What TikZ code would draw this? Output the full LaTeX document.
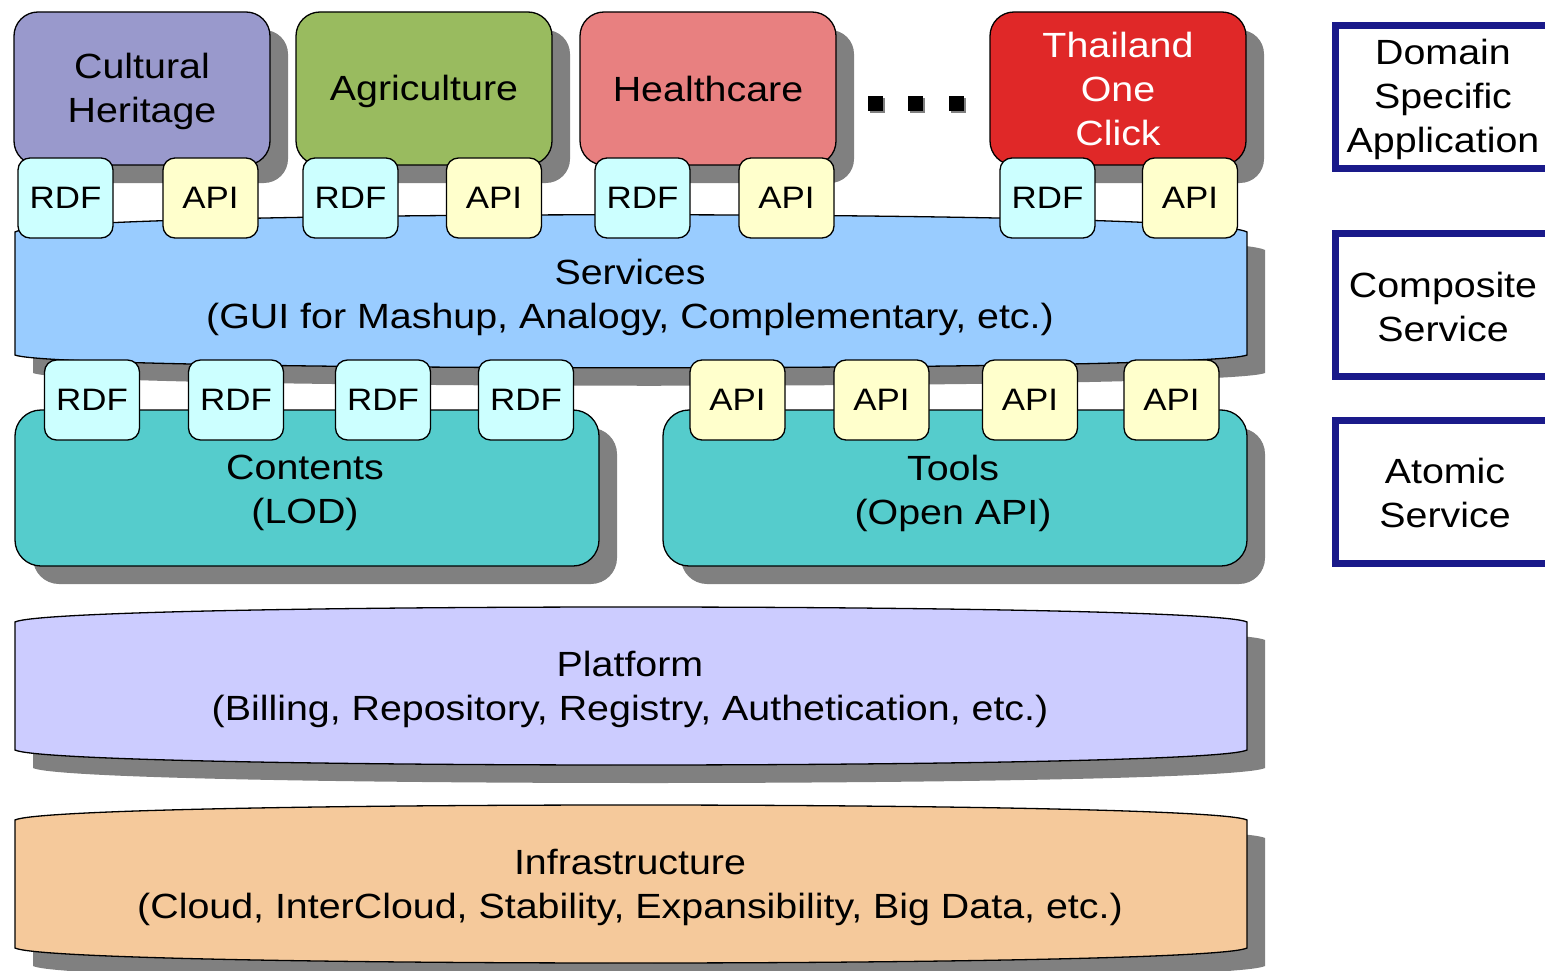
\documentclass[tikz,border=0pt]{standalone}
\usepackage{fontspec}
\setmainfont{Liberation Sans}[FakeStretch=1.125]
\usetikzlibrary{shadows}
\definecolor{shadowgray}{HTML}{808080}
\definecolor{chcol}{HTML}{9999CC}
\definecolor{agcol}{HTML}{99BB5F}
\definecolor{hccol}{HTML}{E88080}
\definecolor{thcol}{HTML}{E02828}
\definecolor{rdfcol}{HTML}{CCFFFF}
\definecolor{apicol}{HTML}{FFFFCC}
\definecolor{svcol}{HTML}{99CCFF}
\definecolor{tlcol}{HTML}{55CCCC}
\definecolor{plcol}{HTML}{CCCCFF}
\definecolor{ifcol}{HTML}{F5C99B}
\definecolor{navycol}{HTML}{1A1A8A}
\newcommand\bandpath[6]{(#1,#3) .. controls ({#1+40},{#3-#4}) and ({#2-40},{#3-#4}) .. (#2,#3) -- (#2,#5) .. controls ({#2-40},{#5+#6}) and ({#1+40},{#5+#6}) .. (#1,#5) -- cycle}
\tikzset{
  every node/.style={font=\fontsize{35}{44}\selectfont, align=center, inner sep=0pt},
  shadowed/.style={drop shadow={shadow xshift=18pt, shadow yshift=-18pt, fill=shadowgray, opacity=1}},
  appbox/.style={draw=black, line width=1.3pt, rounded corners=24pt, minimum width=256pt, minimum height=153pt, shadowed},
  smallbox/.style={draw=black, line width=1.3pt, rounded corners=12pt, minimum width=95pt, minimum height=80pt, font=\fontsize{31}{38}\selectfont},
  rdfbox/.style={smallbox, fill=rdfcol},
  apibox/.style={smallbox, fill=apicol},
  layerbox/.style={draw=black, line width=1.3pt, rounded corners=26pt, minimum width=584pt, minimum height=156pt, fill=tlcol, shadowed},
  bandline/.style={draw=black, line width=1.3pt},
  levelbox/.style={draw=navycol, line width=7pt},
  dotbox/.style={fill=black, minimum size=15pt, drop shadow={shadow xshift=2pt, shadow yshift=-2pt, fill=shadowgray, opacity=1}},
}
\begin{document}
\begin{tikzpicture}[x=1pt,y=-1pt]
\useasboundingbox (0,0) rectangle (1545,971);
\clip (0,0) rectangle (1545,971);
% application boxes
\node[appbox, fill=chcol] (ch) at (142,88.5) {};
\node (cht) at (142,91.5) {Cultural\\Heritage};
\node[appbox, fill=agcol] (ag) at (424,88.5) {};
\node (agt) at (424,91.5) {Agriculture};
\node[appbox, fill=hccol] (hc) at (708,88.5) {Healthcare};
\node[appbox, fill=thcol, text=white] (th) at (1118,88.5) {Thailand\\One\\Click};
\node[dotbox] (d1) at (875,104) {};
\node[dotbox] (d2) at (915,104) {};
\node[dotbox] (d3) at (956,104) {};
% services band
\fill[shadowgray, shift={(18,18)}] \bandpath{15}{1247}{232}{23}{355}{17};
\path[bandline, fill=svcol] \bandpath{15}{1247}{232}{23}{355}{17};
\node (sv) at (630,297) {Services\\(GUI for Mashup, Analogy, Complementary, etc.)};
% top RDF/API
\node[rdfbox] (r1) at (65.5,198) {RDF};
\node[apibox] (a1) at (210.5,198) {API};
\node[rdfbox] (r2) at (350.5,198) {RDF};
\node[apibox] (a2) at (494,198) {API};
\node[rdfbox] (r3) at (642.5,198) {RDF};
\node[apibox] (a3) at (786.5,198) {API};
\node[rdfbox] (r4) at (1047.5,198) {RDF};
\node[apibox] (a4) at (1190,198) {API};
% contents and tools
\node[layerbox] (ct) at (307,488) {};
\node[layerbox] (tl) at (955,488) {};
\node (ctt) at (305,493) {Contents\\(LOD)};
\node (tlt) at (953,493) {Tools\\(Open API)};
% lower RDF/API
\node[rdfbox] (lr1) at (92,400) {RDF};
\node[rdfbox] (lr2) at (236,400) {RDF};
\node[rdfbox] (lr3) at (383,400) {RDF};
\node[rdfbox] (lr4) at (526,400) {RDF};
\node[apibox] (la1) at (737.5,400) {API};
\node[apibox] (la2) at (881.5,400) {API};
\node[apibox] (la3) at (1030,400) {API};
\node[apibox] (la4) at (1171.5,400) {API};
% platform
\fill[shadowgray, shift={(18,18)}] \bandpath{15}{1247}{622}{20}{750}{20};
\path[bandline, fill=plcol] \bandpath{15}{1247}{622}{20}{750}{20};
\node (pl) at (630,689.5) {Platform\\(Billing, Repository, Registry, Authetication, etc.)};
% infrastructure
\fill[shadowgray, shift={(18,18)}] \bandpath{15}{1247}{820}{20}{948}{20};
\path[bandline, fill=ifcol] \bandpath{15}{1247}{820}{20}{948}{20};
\node (inf) at (630,887.5) {Infrastructure\\(Cloud, InterCloud, Stability, Expansibility, Big Data, etc.)};
% level boxes
\draw[levelbox] (1335.5,25.5) rectangle (1570,168.5);
\draw[levelbox] (1335.5,233.5) rectangle (1570,376.5);
\draw[levelbox] (1335.5,420.5) rectangle (1570,563.5);
\node (lv1) at (1443,99) {Domain\\Specific\\Application};
\node (lv2) at (1443,307) {Composite\\Service};
\node (lv3) at (1445,493) {Atomic\\Service};
\end{tikzpicture}
\end{document}
